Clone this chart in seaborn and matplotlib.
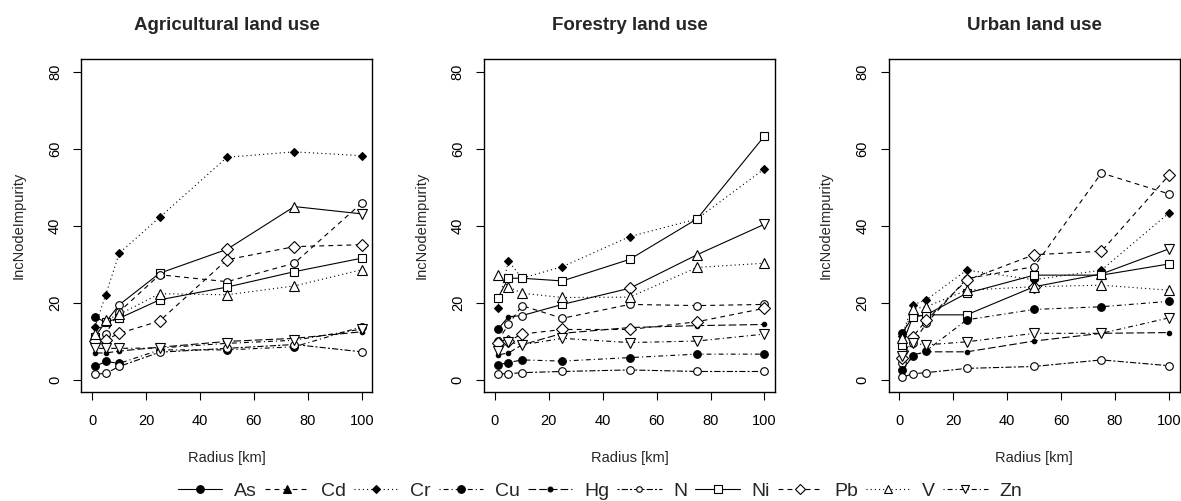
import matplotlib
matplotlib.use('Agg')
import numpy as np
import pandas as pd
import matplotlib.pyplot as plt
import seaborn as sns
from matplotlib.lines import Line2D

sns.set_theme(style='ticks')
plt.rcParams['font.family'] = ['Liberation Sans', 'DejaVu Sans']
plt.rcParams['lines.scale_dashes'] = False

# data
radius = [1, 5, 10, 25, 50, 75, 100]
elements = ['As', 'Cd', 'Cr', 'Cu', 'Hg', 'N', 'Ni', 'Pb', 'V', 'Zn']
titles = ['Agricultural land use', 'Forestry land use', 'Urban land use']

agricultural = {
    'As': [16.3, 15.0, 19.5, 27.7, 33.9, 45.0, 43.1],
    'Cd': [10.5, 12.0, 17.7, 27.3, 25.5, 30.3, 45.9],
    'Cr': [13.7, 22.1, 32.9, 42.2, 57.8, 59.2, 58.2],
    'Cu': [3.5, 4.8, 4.3, 7.8, 7.8, 8.6, 13.8],
    'Hg': [7.0, 7.0, 7.5, 8.5, 10.0, 10.8, 12.5],
    'N':  [1.5, 1.7, 3.5, 7.2, 8.2, 9.2, 7.3],
    'Ni': [11.2, 15.1, 16.0, 20.8, 24.1, 28.1, 31.6],
    'Pb': [10.0, 10.4, 12.1, 15.3, 31.2, 34.6, 35.1],
    'V':  [11.8, 15.5, 17.0, 22.4, 22.1, 24.4, 28.6],
    'Zn': [8.2, 8.2, 8.2, 8.3, 9.5, 10.3, 13.2],
}
forestry = {
    'As': [13.1, 16.4, 16.7, 19.6, 23.8, 32.5, 40.4],
    'Cd': [10.1, 14.4, 19.3, 16.0, 19.6, 19.3, 19.6],
    'Cr': [18.8, 30.9, 26.4, 29.4, 37.2, 41.8, 54.8],
    'Cu': [3.9, 4.5, 5.2, 4.9, 5.8, 6.7, 6.7],
    'Hg': [6.5, 7.0, 9.1, 12.1, 13.6, 14.1, 14.4],
    'N':  [1.6, 1.6, 1.9, 2.2, 2.6, 2.2, 2.2],
    'Ni': [21.2, 26.4, 26.4, 25.7, 31.3, 41.8, 63.3],
    'Pb': [9.5, 10.1, 11.9, 13.1, 13.1, 15.1, 18.6],
    'V':  [27.2, 24.2, 22.5, 21.4, 21.5, 29.2, 30.3],
    'Zn': [7.5, 9.9, 9.1, 10.8, 9.7, 10.1, 11.9],
}
urban = {
    'As': [12.1, 16.4, 16.9, 16.9, 24.2, 27.5, 34.0],
    'Cd': [4.5, 9.5, 14.7, 26.3, 29.4, 53.7, 48.3],
    'Cr': [11.5, 19.5, 20.8, 28.5, 26.0, 28.5, 43.3],
    'Cu': [2.6, 6.1, 7.6, 15.6, 18.3, 19.0, 20.4],
    'Hg': [2.0, 6.5, 7.3, 7.3, 10.1, 12.1, 12.3],
    'N':  [0.7, 1.6, 1.9, 3.0, 3.5, 5.2, 3.7],
    'Ni': [9.1, 16.4, 16.9, 22.5, 27.2, 27.2, 30.1],
    'Pb': [5.6, 11.2, 15.5, 25.9, 32.5, 33.4, 53.1],
    'V':  [11.0, 18.5, 19.0, 23.3, 24.2, 24.6, 23.3],
    'Zn': [6.1, 9.5, 9.1, 9.9, 12.1, 12.1, 16.1],
}

# styles (R lty 1..6 recycled)
line_styles = {
    'As': '-', 'Cd': (0, (3.5, 3)), 'Cr': (0, (0.8, 2.2)),
    'Cu': (0, (0.8, 2.2, 3.5, 2.2)), 'Hg': (0, (5.5, 2.2)),
    'N': (0, (1.5, 1.5, 4.5, 1.5)), 'Ni': '-', 'Pb': (0, (3.5, 3)),
    'V': (0, (0.8, 2.2)), 'Zn': (0, (0.8, 2.2, 3.5, 2.2)),
}
# marker, filled, size
plot_marks = {
    'Cd': ('o', False, 5.5), 'Cr': ('D', True, 3.8), 'Cu': ('o', True, 5.5),
    'Hg': ('o', True, 3.2), 'N': ('o', False, 5.5), 'Ni': ('s', False, 5.5),
    'Pb': ('D', False, 6), 'V': ('^', False, 6.5), 'Zn': ('v', False, 6.5),
}
# As gets a different symbol at every point in the original
as_marks = [('o', True, 5.5), ('o', True, 3.2), ('o', False, 5.5), ('s', False, 5.5),
            ('D', False, 6), ('^', False, 6.5), ('v', False, 6.5)]
legend_marks = {
    'As': ('o', True, 5.5), 'Cd': ('^', True, 6), 'Cr': ('D', True, 4),
    'Cu': ('o', True, 5.5), 'Hg': ('o', True, 3.5), 'N': ('o', False, 4),
    'Ni': ('s', False, 5.5), 'Pb': ('D', False, 5.5), 'V': ('^', False, 6),
    'Zn': ('v', False, 6),
}


def draw_marker(ax, x, y, mk):
    m, filled, s = mk
    ax.plot(x, y, ls='none', marker=m, ms=s, mfc='black' if filled else 'white',
            mec='black', mew=0.8, zorder=3)


fig = plt.figure(figsize=(11.81, 5.01), dpi=100)
lefts = [0.069, 0.410, 0.7524]

for left, title, vals in zip(lefts, titles, [agricultural, forestry, urban]):
    ax = fig.add_axes([left, 0.217, 0.2464, 0.6645])
    df = pd.DataFrame([(el, r, v) for el in elements for r, v in zip(radius, vals[el])],
                      columns=['element', 'radius', 'value'])
    for el in elements:
        sub = df[df['element'] == el]
        sns.lineplot(data=sub, x='radius', y='value', ax=ax, color='black',
                     linewidth=0.8, linestyle=line_styles[el], legend=False,
                     estimator=None, sort=False)
        if el == 'As':
            for (r, v), mk in zip(zip(sub['radius'], sub['value']), as_marks):
                draw_marker(ax, [r], [v], mk)
        else:
            draw_marker(ax, sub['radius'], sub['value'], plot_marks[el])

    ax.set_xlim(-4, 104)
    ax.set_ylim(-3.2, 83.2)
    ax.set_xticks(range(0, 101, 20))
    ax.set_yticks(range(0, 81, 20))
    ax.set_yticklabels([str(t) for t in range(0, 81, 20)], rotation=90, va='center')
    ax.tick_params(direction='out', length=6, width=0.8, colors='black', labelsize=10.5)
    ax.tick_params(axis='x', pad=9.5)
    ax.tick_params(axis='y', pad=8)
    for sp in ax.spines.values():
        sp.set_color('black')
        sp.set_linewidth(1)
    ax.set_xlabel('Radius [km]', fontsize=10.5)
    ax.set_ylabel('IncNodeImpurity', fontsize=10.5)
    ax.xaxis.set_label_coords(0.5, -0.176)
    ax.yaxis.set_label_coords(-0.192, 0.5)
    ax.set_title(title, fontsize=13.5, fontweight='bold', pad=21)

handles = []
for el in elements:
    m, filled, s = legend_marks[el]
    handles.append(Line2D([], [], color='black', lw=0.8, linestyle=line_styles[el],
                          marker=m, ms=s, mfc='black' if filled else 'white',
                          mec='black', mew=0.8))
fig.legend(handles, elements, loc='center', bbox_to_anchor=(0.508, 0.02), ncol=10,
           frameon=False, fontsize=14, handlelength=2.3, handletextpad=0.6,
           columnspacing=0.4, borderpad=0, borderaxespad=0)

fig.savefig('out.png', dpi=100)
